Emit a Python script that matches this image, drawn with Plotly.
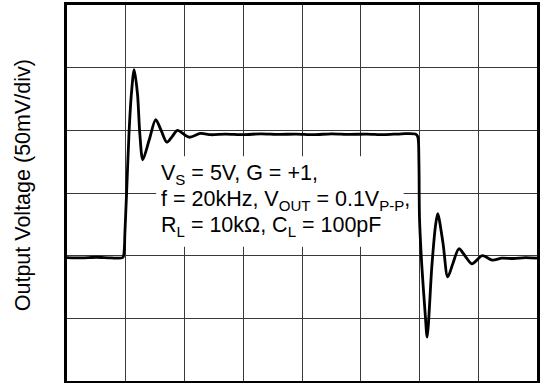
import plotly.graph_objects as go

# Small-signal pulse response, time in microseconds (5 µs/div), output in mV (50 mV/div)
time_us = [
    0.0, 1.25, 2.5, 3.75, 4.75,
    4.875, 4.925, 5.07, 5.275, 5.48, 5.715,
    6.0, 6.2, 6.45, 7.0, 7.55, 8.03, 8.5, 8.95, 9.4, 10.4, 11.35, 12.25,
    13.5, 15.0, 16.5, 18.0, 19.5, 21.0, 22.5, 24.0, 25.5, 27.0, 28.5, 29.65,
    29.85, 29.95, 30.0, 30.2, 30.5, 30.65,
    31.05, 31.35, 31.55, 32.0, 32.4, 32.85, 33.35, 33.9, 34.45, 35.35, 36.2,
    37.0, 38.0, 39.0, 40.0,
]
vout_mv = [
    -51.5, -51.75, -51.25, -51.75, -51.5,
    -45.0, -32.5, -0.5, 47.0, 79.0, 98.5,
    79.0, 47.0, 26.5, 42.5, 58.5, 49.5, 40.5, 45.0, 50.0, 44.5, 47.5, 46.5,
    47.0, 46.5, 47.25, 46.75, 47.0, 46.5, 47.25, 46.75, 47.0, 46.5, 47.25, 47.0,
    45.0, 25.0, -20.0, -58.5, -98.5, -115.0,
    -58.5, -27.0, -16.5, -40.0, -67.0, -56.0, -44.5, -50.5, -56.5, -50.0, -53.5,
    -52.0, -52.25, -51.5, -52.0,
]

# Test-condition text lines
condition_lines = [
    "V<sub>S</sub> = 5V, G = +1,",
    "f = 20kHz, V<sub>OUT</sub> = 0.1V<sub>P-P</sub>,",
    "R<sub>L</sub> = 10kΩ, C<sub>L</sub> = 100pF",
]
y_title = "Output Voltage (50mV/div)"

FONT = "Liberation Sans, Arial, sans-serif"

fig = go.Figure()
fig.add_trace(go.Scatter(
    x=time_us, y=vout_mv, mode="lines",
    line=dict(color="black", width=2.8, shape="spline", smoothing=0.8),
    hoverinfo="skip", showlegend=False,
))

axis_common = dict(
    showticklabels=False, ticks="", zeroline=False,
    showgrid=True, gridcolor="#3a3a3a", gridwidth=1.2,
    showline=True, linecolor="black", linewidth=3, mirror=True,
)
fig.update_xaxes(range=[0, 40], dtick=5, tick0=0, **axis_common)
fig.update_yaxes(range=[-150, 150], dtick=50, tick0=-150, **axis_common)

# White panel behind the condition text, over the grid but under the trace
fig.add_shape(type="rect", xref="x", yref="y", x0=7.59, x1=28.65, y0=-42.9, y1=29.4,
              fillcolor="white", line=dict(width=0), layer="between")

line_y = [14.5, -6.0, -26.5]
for text, yv in zip(condition_lines, line_y):
    fig.add_annotation(x=7.85, y=yv, xref="x", yref="y", text=text, showarrow=False,
                       xanchor="left", yanchor="middle",
                       font=dict(family=FONT, size=21.5, color="black"))

fig.add_annotation(x=-43.5 / 473, y=0.52, xref="paper", yref="paper", text=y_title,
                   textangle=-90, showarrow=False, xanchor="center", yanchor="middle",
                   font=dict(family=FONT, size=21.5, color="black"))

fig.update_layout(
    width=542, height=383,
    margin=dict(l=67, r=2, t=3, b=2),
    paper_bgcolor="white", plot_bgcolor="white",
    font=dict(family=FONT, color="black"),
)

fig.write_html("out.html")
